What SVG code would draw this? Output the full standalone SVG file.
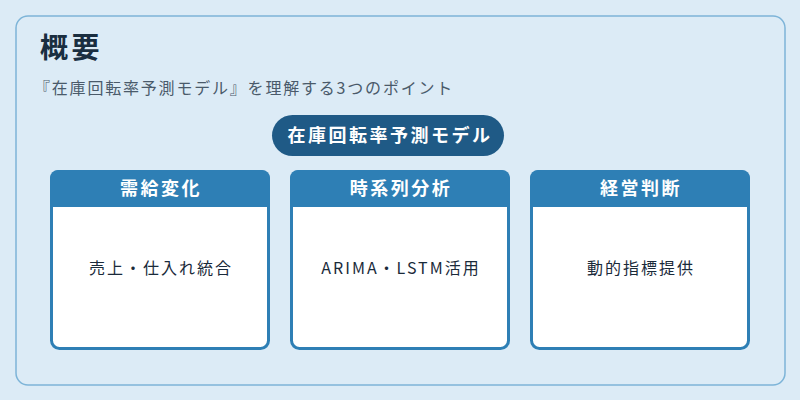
<svg xmlns="http://www.w3.org/2000/svg" width="800" height="400" viewBox="0 0 800 400">
<style>
text{font-family:"Noto Sans CJK JP","Noto Sans",sans-serif}
.hd{fill:#2e7fb5}
.bd{fill:#fff;stroke:#2e7fb5;stroke-width:3}
.ht{fill:#fff;font-size:18px;font-weight:bold;text-anchor:middle;letter-spacing:2.5px}
.bt{fill:#1a2a3a;font-size:16px;text-anchor:middle;letter-spacing:2px}
</style>
<rect width="800" height="400" fill="#dcebf6"/>
<rect x="16" y="16" width="769" height="369" rx="12" fill="#dcebf6" stroke="#7db4d8" stroke-width="1.5"/>
<text x="40" y="58" font-size="28" font-weight="bold" fill="#1a2e40" letter-spacing="3.5">概要</text>
<text x="34" y="94" font-size="16" fill="#4a5a6a" letter-spacing="1.8">『在庫回転率予測モデル』を理解する3つのポイント</text>
<g id="center"><rect x="272" y="115" width="232" height="41" rx="20.5" fill="#1f5a86"/><text x="390" y="142" class="ht" letter-spacing="2.7">在庫回転率予測モデル</text></g>
<g id="card1"><rect x="51.5" y="171.5" width="217" height="177" rx="8" class="bd"/><path d="M50 207V178a8 8 0 0 1 8-8h204a8 8 0 0 1 8 8v29z" class="hd"/><text x="161" y="195" class="ht">需給変化</text><text x="161" y="274" class="bt">売上・仕入れ統合</text></g>
<g id="card2"><rect x="291.5" y="171.5" width="217" height="177" rx="8" class="bd"/><path d="M290 207V178a8 8 0 0 1 8-8h204a8 8 0 0 1 8 8v29z" class="hd"/><text x="401" y="195" class="ht">時系列分析</text><text x="401" y="274" class="bt">ARIMA・LSTM活用</text></g>
<g id="card3"><rect x="531.5" y="171.5" width="217" height="177" rx="8" class="bd"/><path d="M530 207V178a8 8 0 0 1 8-8h204a8 8 0 0 1 8 8v29z" class="hd"/><text x="641" y="195" class="ht">経営判断</text><text x="641" y="274" class="bt">動的指標提供</text></g>
<g id="connectors"/>
</svg>
